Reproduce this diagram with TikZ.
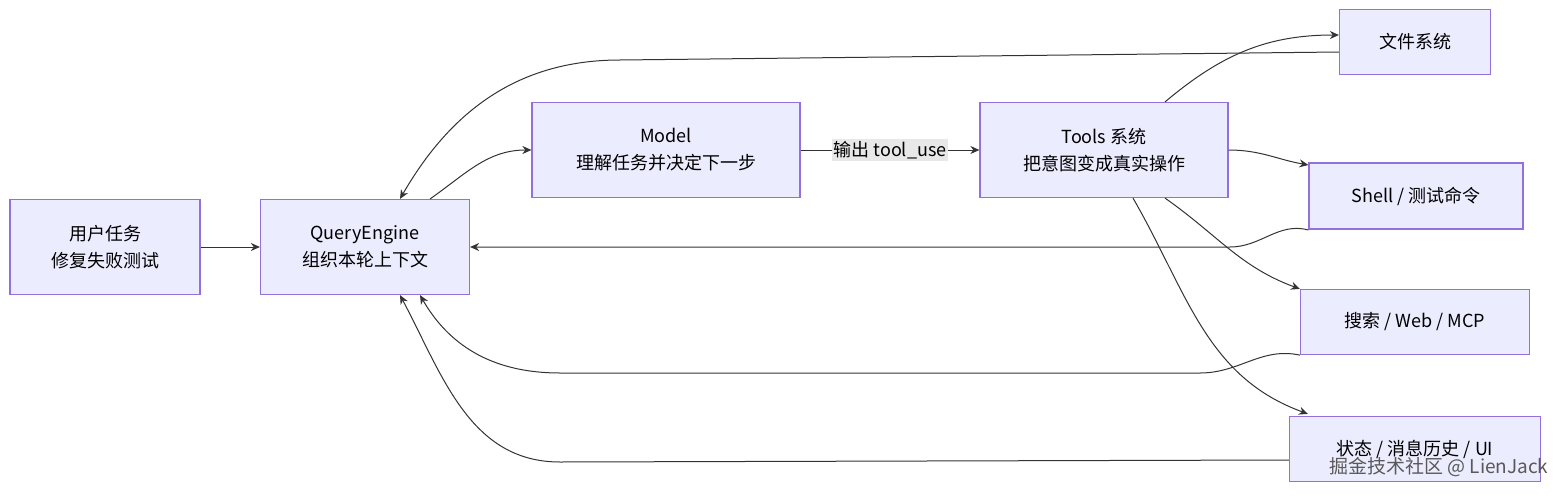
\documentclass[tikz,border=0pt]{standalone}
\usepackage{fontspec}
\setmainfont{Noto Sans CJK SC}
\usetikzlibrary{arrows.meta}
\definecolor{boxfill}{HTML}{ECECFF}
\definecolor{boxline}{HTML}{9370DB}
\definecolor{edgeline}{HTML}{333333}
\begin{document}
\begin{tikzpicture}[x=1pt, y=-1pt,
  box/.style={draw=boxline, fill=boxfill, line width=1.2pt, align=center,
    font=\fontsize{18}{27}\selectfont, inner sep=0pt},
  link/.style={draw=edgeline, line width=1pt, -{Stealth[length=9pt,width=8pt]}}]
  \useasboundingbox (0,0) rectangle (1568,498);
  % nodes
  \node[box, minimum width=190, minimum height=95] (task) at (105,247) {用户任务\\修复失败测试};
  \node[box, minimum width=209, minimum height=95] (engine) at (365,247) {QueryEngine\\组织本轮上下文};
  \node[box, minimum width=268, minimum height=95] (model) at (666,150) {Model\\理解任务并决定下一步};
  \node[box, minimum width=248, minimum height=95] (tools) at (1104,150) {Tools 系统\\把意图变成真实操作};
  \node[box, minimum width=151, minimum height=65] (fs) at (1415,42) {文件系统};
  \node[box, minimum width=214, minimum height=66] (shell) at (1416,196) {Shell / 测试命令};
  \node[box, minimum width=229, minimum height=65] (search) at (1415,322) {搜索 / Web / MCP};
  \node[box, minimum width=251, minimum height=65] (state) at (1415,449) {状态 / 消息历史 / UI};
  % forward edges
  \draw[link] (engine.north east) ++(-40,0) coordinate (qa) (qa) to[out=35, in=180] (model.west);
  \draw[link] (task) -- (engine);
  \draw[link] (model) -- node[fill=gray!18, inner sep=2pt, font=\fontsize{18}{20}\selectfont] {输出 tool\_use} (tools);
  \draw[link] (tools.north) ++(61,0) coordinate (ta) (ta) to[out=40, in=180] ([yshift=7]fs.west);
  \draw[link] (tools.east) to[out=0, in=170] ([yshift=31]shell.west);
  \draw[link] (tools.south) ++(61,0) coordinate (tb) (tb) to[out=-35, in=160] (search.north west);
  \draw[link] (tools.south) ++(29,0) coordinate (tc) (tc) to[out=-60, in=160] ([xshift=19,yshift=2]state.north west);
  % return edges
  \draw[link] ([yshift=-10]fs.west) -- (620,60) to[out=180, in=60] ([xshift=35]engine.north);
  \draw[link] ([yshift=-34]shell.west) to[out=165, in=0] (1230,247) -- (engine.east);
  \draw[link] (search.south west) to[out=168, in=0] (1200,373) -- (560,373) to[out=180, in=-60] ([xshift=55]engine.south);
  \draw[link] ([yshift=-11]state.west) -- (560,462) to[out=180, in=-62] ([xshift=35]engine.south);
  \node[font=\fontsize{19}{22}\selectfont, text=gray!70!black, anchor=east] (mark) at (1552,467) {掘金技术社区 @ LienJack};
\end{tikzpicture}
\end{document}
